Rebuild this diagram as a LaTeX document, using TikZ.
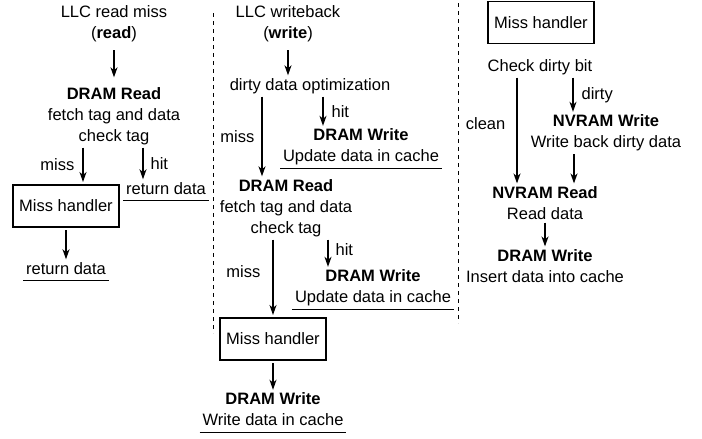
\documentclass[tikz,border=0pt]{standalone}
\usepackage{fontspec}
\setmainfont{Liberation Sans}
\usetikzlibrary{arrows.meta}
\newcommand{\dstrut}{\rule[-3.5pt]{0pt}{1pt}}

\begin{document}
\begin{tikzpicture}[x=1pt, y=-1pt,
  txt/.style={align=center, inner sep=0pt, outer sep=3pt, font=\fontsize{16.5}{21}\selectfont},
  lbl/.style={inner sep=0pt, font=\fontsize{16.5}{21}\selectfont},
  handler/.style={draw, line width=1.4pt, minimum width=106pt, minimum height=42pt, inner sep=0pt, outer sep=3pt, font=\fontsize{16.5}{21}\selectfont},
  arr/.style={-{Stealth[length=10pt,width=7pt,inset=3pt]}, line width=1.3pt},
  uline/.style={line width=1pt},
  sep/.style={dash pattern=on 4pt off 4pt, line width=1pt}]
\useasboundingbox (0,0) rectangle (702,439);

% separators
\draw[sep] (213,13) -- (213,333);
\draw[sep] (458,3) -- (458,323);

% LLC read miss
\node[txt] (llcr) at (114,24) {LLC read miss\\(\textbf{read})};
\node[txt] (drr1) at (114,116) {\textbf{DRAM Read}\\fetch tag and data\\check tag};
\node[handler] (mh1) at (66,206) {Miss handler};
\node[txt] (ret1) at (166,190) {return data\dstrut};
\node[txt] (ret2) at (66,270) {return data\dstrut};
\draw[arr, shorten <=5pt, shorten >=7pt] (llcr) -- (drr1);
\draw[arr] (drr1.south -| 83,0) -- (mh1.north -| 83,0) node[lbl, midway, left=8pt] {miss};
\draw[arr] (drr1.south -| 143,0) -- (ret1.north -| 143,0) node[lbl, midway, right=7pt] {hit};
\draw[arr] (mh1) -- (ret2);
\draw[uline] (ret1.south west) -- (ret1.south east);
\draw[uline] (ret2.south west) -- (ret2.south east);

% LLC writeback
\node[txt] (llcw) at (288,24) {LLC writeback\\(\textbf{write})};
\node[txt] (dirty) at (310,86) {dirty data optimization};
\node[txt] (dw1) at (361,147) {\textbf{DRAM Write}\\Update data in cache};
\node[txt] (drr2) at (286,208) {\textbf{DRAM Read}\\fetch tag and data\\check tag};
\node[txt] (dw2) at (373,288) {\textbf{DRAM Write}\\Update data in cache};
\node[handler] (mh2) at (273,339) {Miss handler};
\node[txt] (dw3) at (273,411) {\textbf{DRAM Write}\\Write data in cache\dstrut};
\draw[arr, shorten <=5pt] (llcw.south) -- (llcw.south |- dirty.north);
\draw[arr] (dirty.south -| 262,0) -- (drr2.north -| 262,0) node[lbl, midway, left=7pt] {miss};
\draw[arr] (dirty.south -| 323,0) -- (dw1.north -| 323,0) node[lbl, midway, right=8pt] {hit};
\draw[arr] (drr2.south -| 273,0) -- (mh2.north -| 273,0) node[lbl, pos=0.43, left=12pt] {miss};
\draw[arr] (drr2.south -| 328,0) -- (dw2.north -| 328,0) node[lbl, pos=0.35, right=7pt] {hit};
\draw[arr] (mh2) -- (dw3);
\draw[uline] (dw1.south west) -- (dw1.south east);
\draw[uline] (dw2.south west) -- (dw2.south east);
\draw[uline] (dw3.south west) -- (dw3.south east);

% miss handler
\node[handler] (mh3) at (541,22.5) {Miss handler};
\node[txt] (chk) at (540,67) {Check dirty bit};
\node[txt] (nw) at (606,133) {\textbf{NVRAM Write}\\Write back dirty data};
\node[txt] (nr) at (545,203) {\textbf{NVRAM Read}\\Read data};
\node[txt] (dw4) at (545,266) {\textbf{DRAM Write}\\Insert data into cache};
\draw[arr] (chk.south -| 517,0) -- (nr.north -| 517,0) node[lbl, pos=0.43, left=11pt] {clean};
\draw[arr] (chk.south -| 573,0) -- (nw.north -| 573,0) node[lbl, midway, right=8pt] {dirty};
\draw[arr] (nw.south -| 574,0) -- (nr.north -| 574,0);
\draw[arr] (nr) -- (dw4);
\end{tikzpicture}
\end{document}
